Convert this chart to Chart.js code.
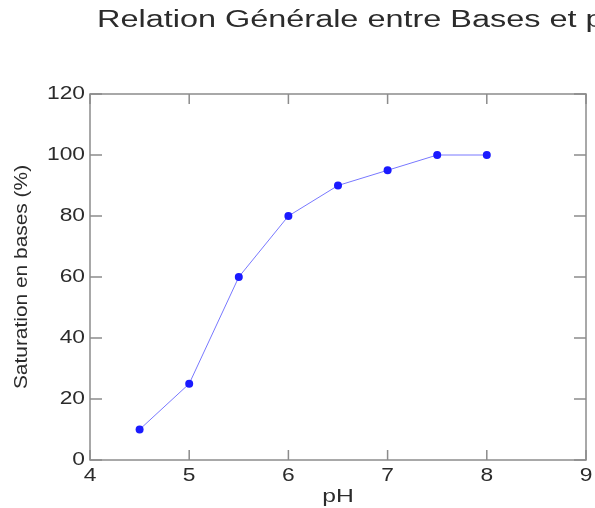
<!DOCTYPE html>
<html>
<head>
<meta charset="utf-8">
<script src="https://cdn.jsdelivr.net/npm/chart.js@4"></script>
<style>
  html, body { margin: 0; padding: 0; background: #fff; }
  #wrap { width: 595px; height: 508px; }
</style>
</head>
<body>
<div id="wrap"><canvas id="myChart"></canvas></div>
<script>
let phValues = [4.5, 5, 5.5, 6, 6.5, 7, 7.5, 8]
let saturation = [10, 25, 60, 80, 90, 95, 100, 100]
let xTicks = [4, 5, 6, 7, 8, 9]
let yTicks = [0, 20, 40, 60, 80, 100, 120]
let chartTitle = 'Relation Générale entre Bases et pH'
let xLabel = 'pH'
let yLabel = 'Saturation en bases (%)'

const font = 'Liberation Sans, Arial, sans-serif'
const textColor = '#2b2b2b'
const axisColor = '#8c8c8c'

// text in the original is stretched sideways, so draw it with a horizontal scale
function stretchedText(ctx, txt, x, y, size, sx, align, angle) {
    ctx.save()
    ctx.translate(x, y)
    if (angle) ctx.rotate(angle)
    ctx.scale(sx, 1)
    ctx.font = size + 'px ' + font
    ctx.fillStyle = textColor
    ctx.textAlign = align
    ctx.textBaseline = 'middle'
    ctx.fillText(txt, 0, 0)
    ctx.restore()
}

// matlab-like box: ticks pointing inward on all four sides
const matlabAxes = {
    id: 'matlabAxes',
    afterDraw(chart) {
        const ctx = chart.ctx
        const a = chart.chartArea
        const x = chart.scales.x, y = chart.scales.y
        ctx.save()
        ctx.strokeStyle = axisColor
        ctx.lineWidth = 1.5
        ctx.strokeRect(a.left, a.top, a.right - a.left, a.bottom - a.top)
        ctx.beginPath()
        xTicks.forEach(v => {
            const px = x.getPixelForValue(v)
            ctx.moveTo(px, a.bottom); ctx.lineTo(px, a.bottom - 10)
            ctx.moveTo(px, a.top); ctx.lineTo(px, a.top + 10)
        })
        yTicks.forEach(v => {
            const py = y.getPixelForValue(v)
            ctx.moveTo(a.left, py); ctx.lineTo(a.left + 12, py)
            ctx.moveTo(a.right, py); ctx.lineTo(a.right - 12, py)
        })
        ctx.stroke()
        ctx.restore()

        xTicks.forEach(v => stretchedText(ctx, String(v), x.getPixelForValue(v), a.bottom + 16, 19, 1.2, 'center'))
        yTicks.forEach(v => stretchedText(ctx, String(v), a.left - 5, y.getPixelForValue(v), 19, 1.2, 'right'))
        stretchedText(ctx, xLabel, (a.left + a.right) / 2, 497, 19, 1.3, 'center')
        stretchedText(ctx, yLabel, 22, (a.top + a.bottom) / 2, 19, 1.1, 'center', -Math.PI / 2)
        stretchedText(ctx, chartTitle, 97, 21, 23, 1.41, 'left')
    }
}

const data = {
    datasets: [{
        label: 'Saturation',
        data: phValues.map((p, i) => ({ x: p, y: saturation[i] })),
        borderColor: '#7878ff',
        borderWidth: 1,
        backgroundColor: '#1a1aff',
        pointBackgroundColor: '#1a1aff',
        pointBorderWidth: 0,
        pointRadius: 4,
        tension: 0
    }]
}

const config = {
    type: 'line',
    data,
    plugins: [matlabAxes],
    options: {
        responsive: false,
        animation: false,
        layout: { padding: { top: 94, right: 9, left: 0, bottom: 0 } },
        plugins: { legend: { display: false }, tooltip: { enabled: false } },
        scales: {
            x: {
                type: 'linear',
                min: 4, max: 9,
                afterFit: s => { s.height = 48 },
                grid: { display: false, drawTicks: false },
                border: { display: false },
                ticks: { display: false }
            },
            y: {
                min: 0, max: 120,
                afterFit: s => { s.width = 90 },
                grid: { display: false, drawTicks: false },
                border: { display: false },
                ticks: { display: false }
            }
        }
    }
}

const canvas = document.getElementById('myChart')
canvas.width = 595
canvas.height = 508
var myChart = new Chart(canvas, config)
</script>
</body>
</html>
